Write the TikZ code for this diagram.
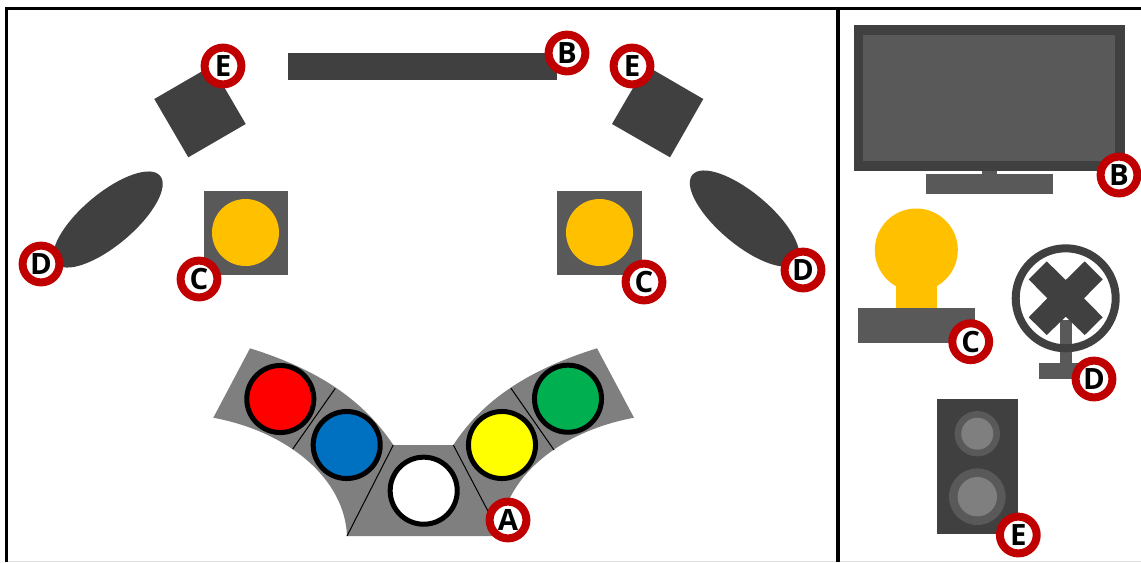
\documentclass[tikz,border=0pt]{standalone}
\usepackage{fontspec}
\setmainfont{Open Sans}[BoldFont={Open Sans Bold}]
\definecolor{dk}{HTML}{404040}
\definecolor{md}{HTML}{595959}
\definecolor{gr}{HTML}{7F7F7F}
\definecolor{amber}{HTML}{FFC000}
\definecolor{ringred}{HTML}{C00000}
\definecolor{bred}{HTML}{FF0000}
\definecolor{bblue}{HTML}{0070C0}
\definecolor{bgreen}{HTML}{00B050}
\definecolor{byellow}{HTML}{FFFF00}
\tikzset{
  badge/.style={circle,draw=ringred,line width=6pt,fill=white,minimum size=27.6pt,inner sep=0pt,font=\bfseries\fontsize{22}{22}\selectfont,text=black},
  btn/.style={circle,draw=black,line width=3.75pt,minimum size=50.3pt,inner sep=0pt},
  seam/.style={draw=black,line width=0.75pt},
  darkshape/.style={fill=dk},
  medshape/.style={fill=md},
  lamp/.style={fill=amber},
  frameline/.style={draw=black,line width=2.6pt}
}
\begin{document}
\begin{tikzpicture}[x=0.75pt,y=-0.75pt]
\useasboundingbox (0,0) rectangle (1141,562);
\fill[white] (0,0) rectangle (1141,562);
% frame
\draw[draw=black!12,line width=0.75pt] (8,561.5) -- (1141,561.5);
\draw[frameline] (6.6,562) -- (6.6,8.6) -- (1141,8.6);
\draw[frameline] (838,8.6) -- (838,562);
% bar, speakers
\fill[darkshape] (288,53) rectangle (557,80);
\fill[darkshape] (154.3,99) -- (211.7,65.7) -- (245.7,124) -- (188.3,157.3) -- cycle;
\fill[darkshape] (703.3,99) -- (646,65.7) -- (612,124) -- (670,157.3) -- cycle;
% fans
\fill[darkshape,rotate around={40:(108,219.5)}] (108,219.5) ellipse (68 and 26);
\fill[darkshape,rotate around={-40:(744.5,218.5)}] (744.5,218.5) ellipse (68 and 26);
% lamps
\fill[medshape] (203.5,190.5) rectangle (287.5,275);
\fill[lamp] (245.5,232.5) circle (33.5);
\fill[medshape] (557,190.5) rectangle (641.5,275);
\fill[lamp] (599.5,232.5) circle (33.5);
% console
\fill[gr] (250,348.3) .. controls (310,367) and (360,395) .. (393.3,445)
  -- (453.3,445) .. controls (486,395) and (537,367) .. (597,348.3)
  -- (634,417.7) .. controls (557,432) and (502,480) .. (500,536)
  -- (347,536) .. controls (345,480) and (290,432) .. (213.3,417.7) -- cycle;
\coordinate (s1a) at (335.3,388.3); \coordinate (s1b) at (292.7,449);
\coordinate (s2a) at (393.3,445);   \coordinate (s2b) at (347,536);
\coordinate (s3a) at (453.3,445);   \coordinate (s3b) at (488.3,511.7);
\coordinate (s4a) at (511,388.3);   \coordinate (s4b) at (554,450);
\draw[seam] (s1a) -- (s1b);
\draw[seam] (s2a) -- (s2b);
\draw[seam] (s3a) -- (s3b);
\draw[seam] (s4a) -- (s4b);
\node[btn,fill=bred] (nred) at (280.3,399) {};
\node[btn,fill=bblue] (nblue) at (346.7,445) {};
\node[btn,fill=white] (nwhite) at (423.7,490.7) {};
\node[btn,fill=byellow] (nyellow) at (502,445) {};
\node[btn,fill=bgreen] (ngreen) at (568,398.7) {};
% TV
\fill[darkshape] (853.7,25) rectangle (1125,170.7);
\fill[medshape] (863,35) rectangle (1115,161);
\fill[medshape] (982,170.7) rectangle (997,174);
\fill[medshape] (926,174) rectangle (1052.7,193.7);
% lamp detail
\fill[lamp] (916.3,250) circle (41.5);
\fill[lamp] (895.7,280) rectangle (937,308);
\fill[medshape] (857.5,308) rectangle (974.7,343.3);
% fan detail
\fill[medshape] (1060,320) rectangle (1072,365);
\fill[medshape] (1039,362.7) rectangle (1083,378.7);
\draw[dk,line width=6pt] (1065.7,298.3) circle (50);
\fill[darkshape] (1046.7,261.3) -- (1065.7,280) -- (1084.7,261.3) -- (1102.7,279.3) -- (1084,298.3) -- (1102.7,317.3) -- (1084.7,335) -- (1065.7,316.7) -- (1046.7,335) -- (1028.7,317.3) -- (1047.3,298.3) -- (1028.7,279.3) -- cycle;
% speaker detail
\fill[darkshape] (937,398.7) rectangle (1018,533.7);
\fill[medshape] (977.3,433.7) circle (22.7);
\fill[gr] (977.3,433.7) circle (16);
\fill[medshape] (977.3,496.7) circle (28.3);
\fill[gr] (977.3,496.7) circle (19.7);
% badges
\node[badge] (eL) at (223,66) {E};
\node[badge] (bT) at (567,53) {B};
\node[badge] (eR) at (632,66) {E};
\node[badge] (dL) at (41,264) {D};
\node[badge] (cL) at (199,279) {C};
\node[badge] (cR) at (644,282) {C};
\node[badge] (dR) at (803,270) {D};
\node[badge] (aa) at (508,520) {A};
\node[badge] (bD) at (1119,175) {B};
\node[badge] (cD) at (970.7,341.7) {C};
\node[badge] (dD) at (1094,379) {D};
\node[badge] (eD) at (1018.3,535) {E};
\end{tikzpicture}
\end{document}
